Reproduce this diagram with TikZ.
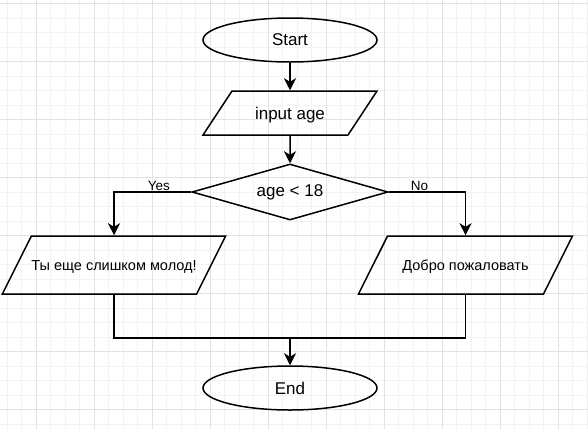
\documentclass[tikz,border=0pt]{standalone}
\usepackage{fontspec}
\setmainfont{Liberation Sans}
\usetikzlibrary{shapes.geometric, arrows.meta}

\definecolor{gridminor}{HTML}{F2F2F2}
\definecolor{gridmajor}{HTML}{E2E2E2}

\begin{document}
\begin{tikzpicture}[x=1pt, y=-1pt,
  terminal/.style={draw, ellipse, line width=1.5pt, minimum width=174pt, minimum height=44pt, font=\fontsize{17}{20}\selectfont},
  iobox/.style={draw, trapezium, trapezium stretches body, trapezium left angle=#1, trapezium right angle={180-#1}, line width=1.5pt, inner sep=0pt},
  decision/.style={draw, diamond, aspect=3.5, line width=1.5pt, inner sep=0pt, minimum width=196pt, minimum height=56pt, font=\fontsize{17}{20}\selectfont},
  flow/.style={line width=1.5pt, -{Stealth[length=12pt, width=12pt, inset=3.5pt]}},
  link/.style={line width=1.5pt},
  answer/.style={above, inner sep=0.5pt, font=\fontsize{13.5}{15}\selectfont}]
\useasboundingbox (0,0) rectangle (588,429);

% background grid
\foreach \k in {0,...,40}
  \draw[gridminor, line width=0.8pt] ({7.25+14.5*\k},0) -- ({7.25+14.5*\k},429);
\foreach \k in {0,...,29}
  \draw[gridminor, line width=0.8pt] (0,{3.7+14.5*\k}) -- (588,{3.7+14.5*\k});
\foreach \k in {0,...,9}
  \draw[gridmajor, line width=0.8pt] ({36.25+58*\k},0) -- ({36.25+58*\k},429);
\foreach \k in {0,...,7}
  \draw[gridmajor, line width=0.8pt] (0,{3.7+58*\k}) -- (588,{3.7+58*\k});

% blocks
\node[terminal] (start) at (290,40) {Start};
\node[iobox=56.6, minimum width=174pt, text height=28pt, text depth=16pt, font=\fontsize{17}{20}\selectfont] (input) at (290,113) {input age};
\node[iobox=63.4, minimum width=209pt, text height=34pt, text depth=24pt, font=\fontsize{14.5}{16}\selectfont] (young) at (114,265) {Ты еще слишком молод!};
\node[iobox=63.4, minimum width=214pt, text height=34pt, text depth=24pt, font=\fontsize{14.5}{16}\selectfont] (welcome) at (465.5,265) {Добро пожаловать};
\node[decision] (check) at (290,192) {age < 18};
\node[terminal] (end) at (290,388) {End};
\coordinate (merge) at (290,338);

% connectors
\draw[flow] (start) -- (input);
\draw[flow] (input) -- (check);
\draw[flow] (check.west) -| node[answer, pos=0.21] {Yes} (young.north);
\draw[flow] (check.east) -| node[answer, pos=0.2] {No} (welcome.north);
\draw[link] (young.south) |- (merge);
\draw[link] (welcome.south) |- (merge);
\draw[flow] (merge) -- (end);
\end{tikzpicture}
\end{document}
